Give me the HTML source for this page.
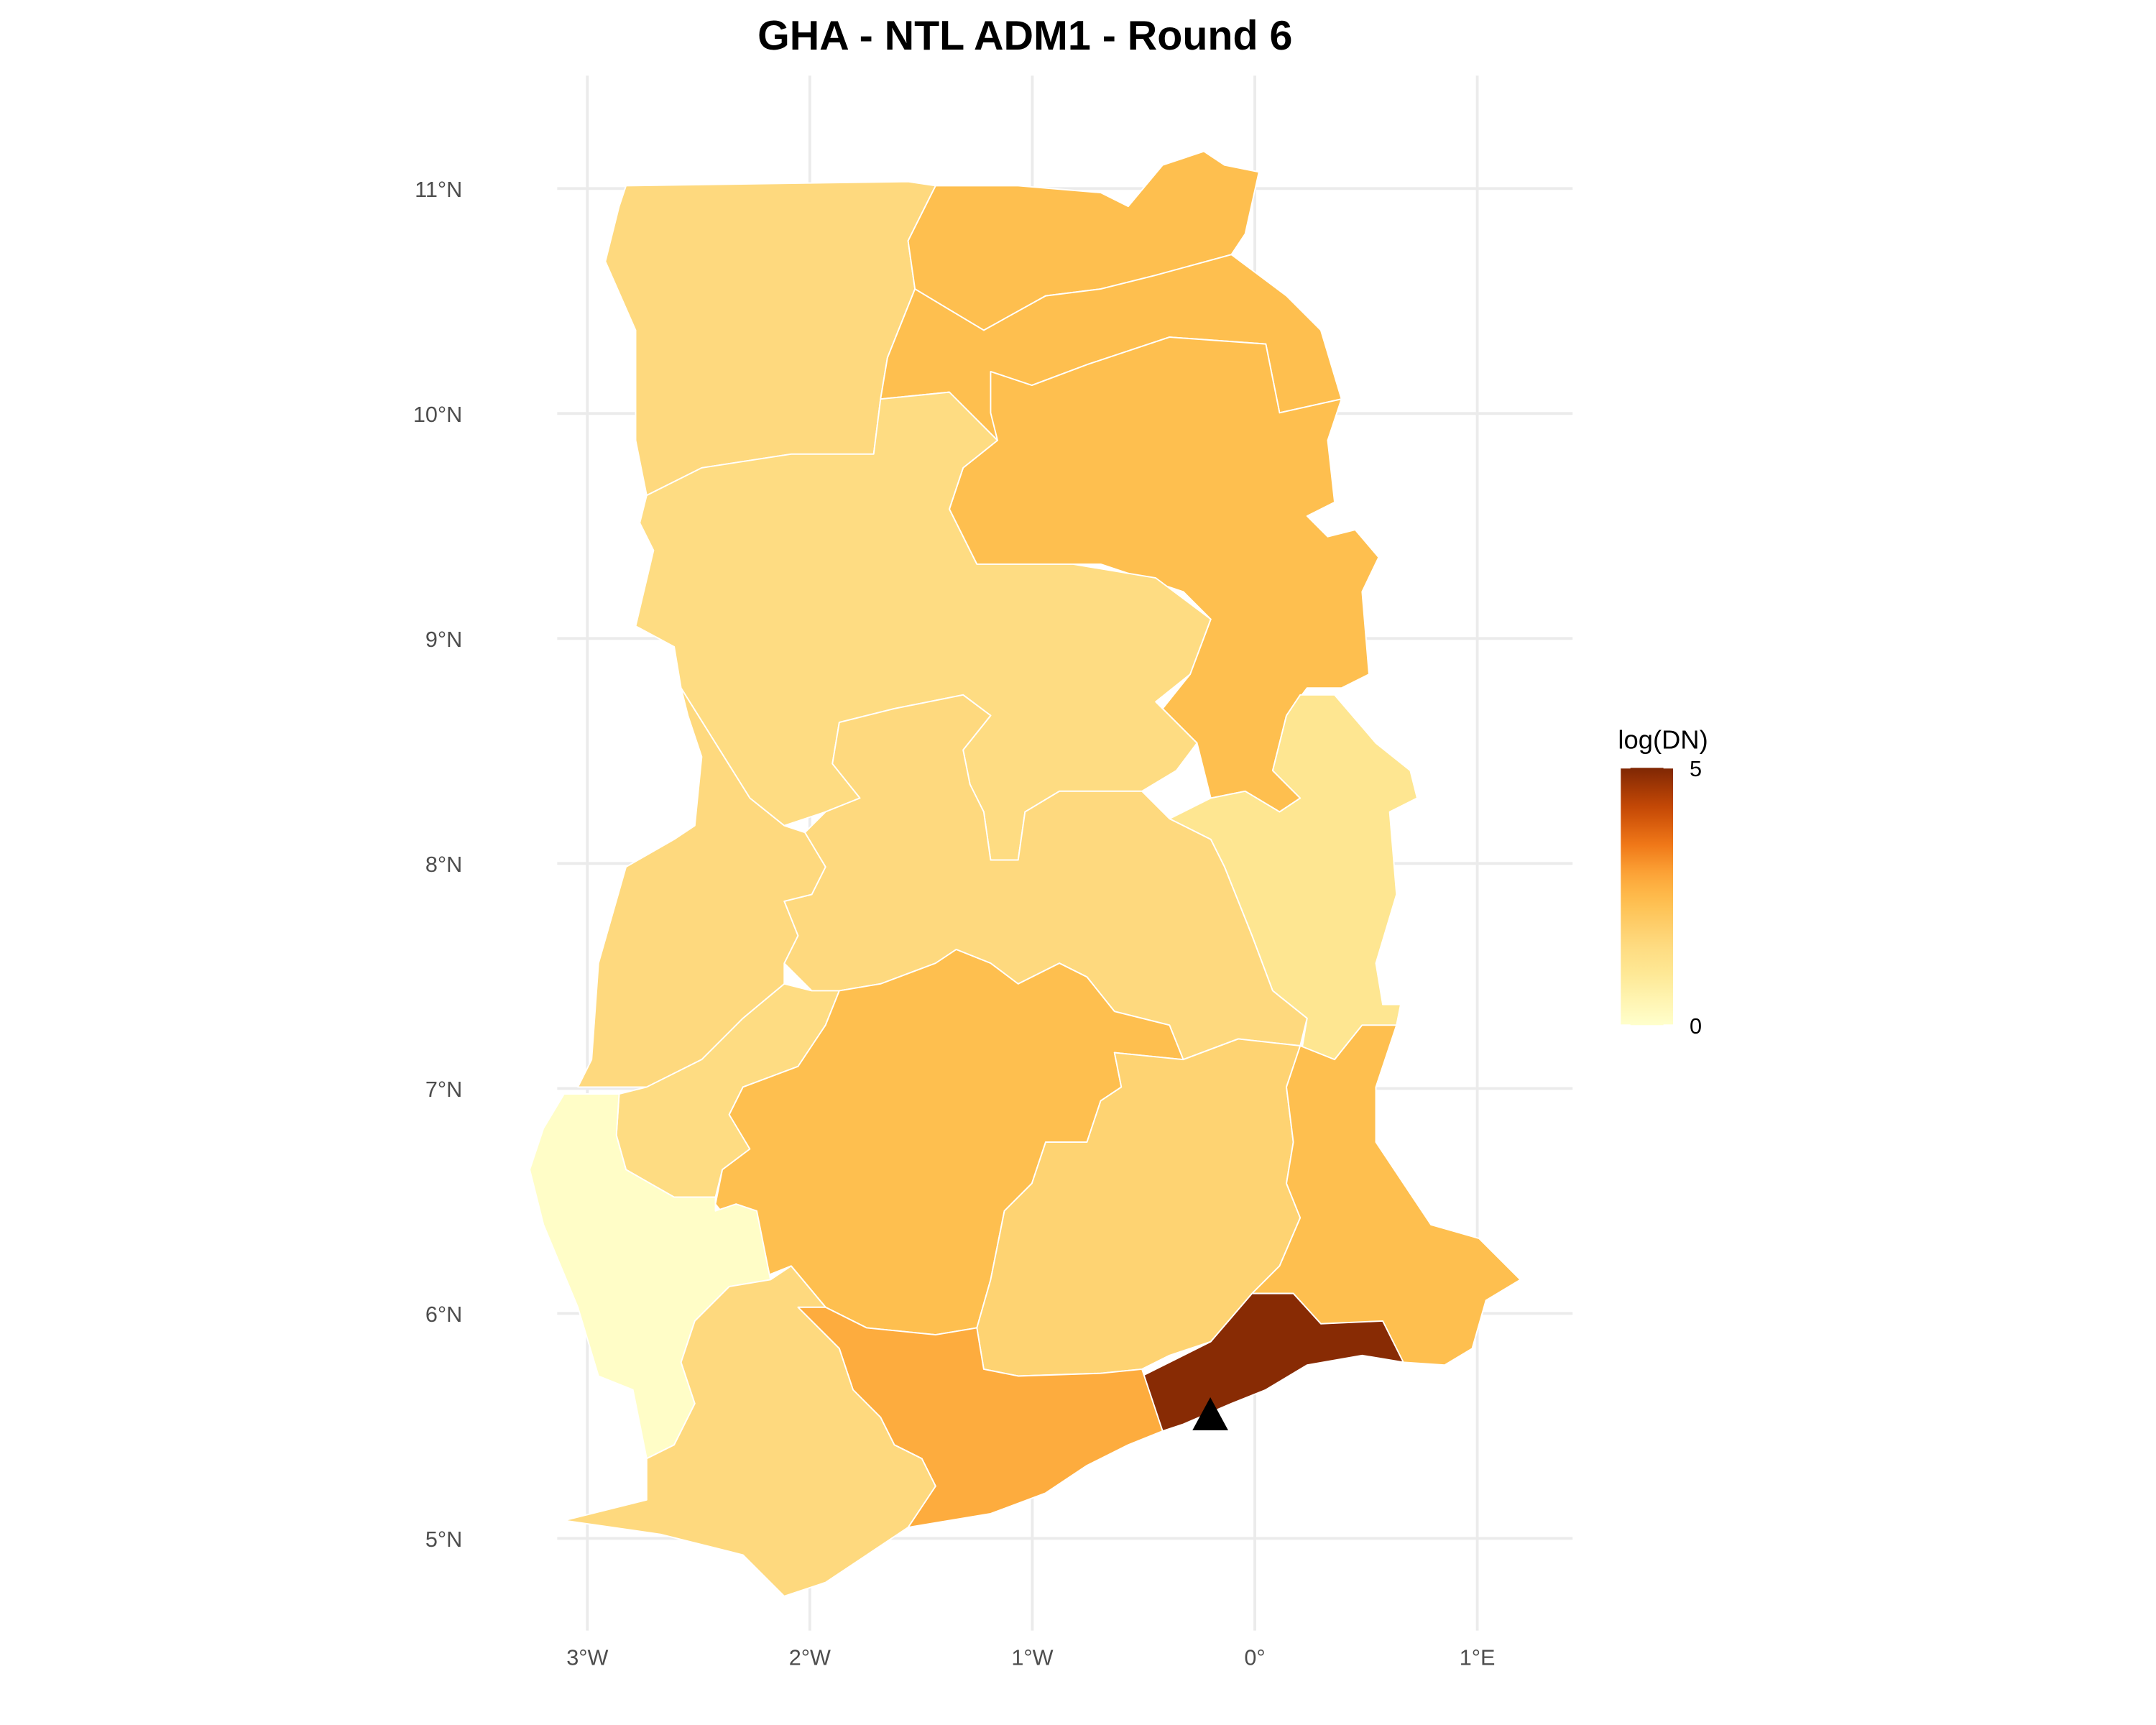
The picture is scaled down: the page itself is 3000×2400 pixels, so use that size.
<!DOCTYPE html>
<html><head><meta charset="utf-8"><style>
html,body{margin:0;padding:0;background:#fff;}
svg{display:block;font-family:"Liberation Sans",Arial,sans-serif;}
</style></head><body>
<svg id="chart" width="3000" height="2400" viewBox="0 0 1567 1253.6" xmlns="http://www.w3.org/2000/svg">
<rect width="1567" height="1253.6" fill="#fff"/>
<g id="grid"></g>
<g id="regions"></g>
<g id="axes"></g>
<text x="745" y="36" text-anchor="middle" font-size="30" font-weight="bold" fill="#000">GHA - NTL ADM1 - Round 6</text>
<defs><linearGradient id="lg" x1="0" y1="1" x2="0" y2="0"></linearGradient></defs>
<g id="legend"></g>
</svg>
<script>
const lonTicks=[-3,-2,-1,0,1];
const lonLabels=["3°W","2°W","1°W","0°","1°E"];
const latTicks=[11,10,9,8,7,6,5];
const latLabels=["11°N","10°N","9°N","8°N","7°N","6°N","5°N"];
const regionNames=["upper-west","upper-east","north-east","northern","savannah","oti","bono-east","bono","ahafo","ashanti","eastern","volta","greater-accra","central","western-north","western"];
const regionValues=[1.6,2.4,2.4,2.4,1.5,1.1,1.6,1.6,1.5,2.4,1.8,2.4,4.9,2.8,0.1,1.6];
const legendMin=0, legendMax=5;
const capital=[-0.2,5.56];

const X=lon=>912+lon*161.7;
const Y=lat=>137+(11-lat)*163.5;
const stops=[[0,"#ffffcc"],[1,"#fee895"],[1.6,"#fed97e"],[2.4,"#febf4f"],[2.9,"#fda73a"],[3.5,"#f07818"],[4.2,"#c84a06"],[5,"#7f2704"]];
function hex(c){return [1,3,5].map(i=>parseInt(c.substr(i,2),16));}
function color(v){
  for(let i=1;i<stops.length;i++){if(v<=stops[i][0]){const a=stops[i-1],b=stops[i];const t=(v-a[0])/(b[0]-a[0]);const A=hex(a[1]),B=hex(b[1]);return "rgb("+A.map((x,k)=>Math.round(x+(B[k]-x)*t)).join(",")+")";}}
  return stops[stops.length-1][1];
}
const NS="http://www.w3.org/2000/svg";
function mk(t,a,p){const e=document.createElementNS(NS,t);for(const k in a)e.setAttribute(k,a[k]);p.appendChild(e);return e;}
const shapes=[
"455,135 660,132 680,135 660,175 665,210 645,260 640,290 635,330 575,330 510,340 470,360 462,320 462,240 440,190 450,150",
"680,135 740,135 800,140 820,150 845,120 875,110 890,120 915,125 905,170 895,185 840,200 800,210 760,215 715,240 690,225 665,210 660,175",
"665,210 690,225 715,240 760,215 800,210 840,200 895,185 935,215 960,240 975,290 930,300 920,250 850,245 790,265 750,280 725,320 690,285 640,290 645,260",
"720,270 750,280 790,265 850,245 920,250 930,300 975,290 965,320 970,365 950,375 965,390 985,385 1002,405 990,430 995,490 975,500 950,500 935,520 925,560 945,580 930,590 905,575 880,580 870,540 845,515 865,490 880,450 860,430 800,410 710,410 690,370 700,340 725,320 720,300",
"470,360 510,340 575,330 635,330 640,290 690,285 725,320 700,340 690,370 710,410 780,410 840,420 880,450 865,490 840,510 870,540 855,560 830,575 770,575 745,590 740,625 720,625 715,590 705,570 700,545 720,520 700,505 650,515 610,525 605,555 625,580 600,590 570,600 545,580 520,540 495,500 490,470 462,455 475,400 465,380",
"935,520 945,505 970,505 1000,540 1025,560 1030,580 1010,590 1015,650 1000,700 1005,730 1018,730 1015,745 990,745 970,770 945,770 950,740 925,720 910,680 890,630 880,610 850,595 880,580 905,575 930,590 945,580 925,560",
"705,570 715,590 720,625 740,625 745,590 770,575 830,575 850,595 880,610 890,630 910,680 925,720 950,740 945,760 900,755 860,770 850,745 810,735 790,710 770,700 740,715 720,700 695,690 680,700 640,715 610,720 590,720 570,700 580,680 570,655 590,650 600,630 585,605 600,590 625,580 605,555 610,525 650,515 700,505 720,520 700,545",
"495,500 520,540 545,580 570,600 585,605 600,630 590,650 570,655 580,680 570,700 570,715 540,740 510,770 470,790 450,790 420,790 430,770 435,700 455,630 490,610 505,600 510,550 500,520",
"570,715 590,720 610,720 600,745 580,775 540,790 530,810 545,835 525,850 520,870 490,870 455,850 448,825 450,795 470,790 510,770 540,740",
"610,720 640,715 680,700 695,690 720,700 740,715 770,700 790,710 810,735 850,745 860,770 810,765 815,790 800,800 790,830 760,830 750,860 730,880 720,930 710,965 680,970 630,965 600,950 575,920 550,930 540,900 520,875 525,850 545,835 530,810 540,790 580,775 600,745",
"810,765 860,770 900,755 945,760 935,790 940,830 935,860 945,885 930,920 910,940 880,975 850,985 830,995 800,998 740,1000 715,995 710,965 720,930 730,880 750,860 760,830 790,830 800,800 815,790",
"945,760 970,770 990,745 1015,745 1000,790 1000,830 1020,860 1040,890 1075,900 1105,930 1080,945 1070,980 1050,992 1020,990 990,980 960,962 940,940 910,940 930,920 945,885 935,860 940,830 935,790",
"910,940 940,940 960,962 1005,960 1020,990 990,985 950,992 920,1010 895,1020 860,1035 845,1040 830,1000 850,990 880,975",
"600,950 630,965 680,970 710,965 715,995 740,1000 800,998 830,995 845,1040 820,1050 790,1065 760,1085 720,1100 660,1110 680,1080 670,1060 650,1050 640,1030 620,1010 610,980 580,950 575,920",
"410,795 450,795 448,825 455,850 490,870 520,870 520,880 535,875 550,880 560,930 530,935 505,960 495,990 505,1020 490,1050 470,1060 460,1010 435,1000 420,950 395,890 385,850 395,820",
"505,960 530,935 560,930 575,920 600,950 580,950 610,980 620,1010 640,1030 650,1050 670,1060 680,1080 660,1110 630,1130 600,1150 570,1160 540,1130 480,1115 410,1105 470,1090 470,1060 490,1050 505,1020 495,990"
];
const grid=document.getElementById('grid');
lonTicks.forEach((t,i)=>{
  const l=mk('line',{x1:X(t),x2:X(t),y1:55,y2:1185,stroke:'#ebebeb','stroke-width':2},grid);
  
  
});
latTicks.forEach((t,i)=>{
  const l=mk('line',{x1:405,x2:1143,y1:Y(t),y2:Y(t),stroke:'#ebebeb','stroke-width':2},grid);
  
  
});
const reg=document.getElementById('regions');
shapes.forEach((s,i)=>{
  const p=mk('polygon',{points:s,fill:color(regionValues[i]),stroke:'#fff','stroke-width':1,'stroke-linejoin':'round'},reg);
  
  
});
const cx=X(capital[0]),cy=Y(capital[1]);
const tri=mk('polygon',{points:(cx-13)+","+(cy+13)+" "+(cx+13)+","+(cy+13)+" "+cx+","+(cy-11),fill:'#000'},reg);


const ax=document.getElementById('axes');
lonTicks.forEach((t,i)=>{
  const e=mk('text',{x:X(t),y:1210,'text-anchor':'middle','font-size':16,fill:'#4d4d4d'},ax);
  e.textContent=lonLabels[i];
  
  
});
latTicks.forEach((t,i)=>{
  const e=mk('text',{x:336,y:Y(t)+6,'text-anchor':'end','font-size':16,fill:'#4d4d4d'},ax);
  e.textContent=latLabels[i];
  
  
});
const lg=document.getElementById('lg');
for(let v=legendMin;v<=legendMax;v+=0.25){mk('stop',{offset:(v-legendMin)/(legendMax-legendMin),'stop-color':color(v)},lg);}
const leg=document.getElementById('legend');
const lt=mk('text',{x:1176,y:544,'font-size':19,fill:'#000'},leg);lt.textContent='log(DN)';


const lb=mk('rect',{x:1178,y:558,width:38,height:187,fill:'url(#lg)'},leg);


[[legendMax,558],[legendMin,745]].forEach(([v,y])=>{
  mk('line',{x1:1178,x2:1185,y1:y,y2:y,stroke:'#fff','stroke-width':1},leg);
  mk('line',{x1:1209,x2:1216,y1:y,y2:y,stroke:'#fff','stroke-width':1},leg);
  const t=mk('text',{x:1228,y:y+6,'font-size':16,fill:'#000'},leg);t.textContent=String(v);
  
  
});
</script>
</body></html>
